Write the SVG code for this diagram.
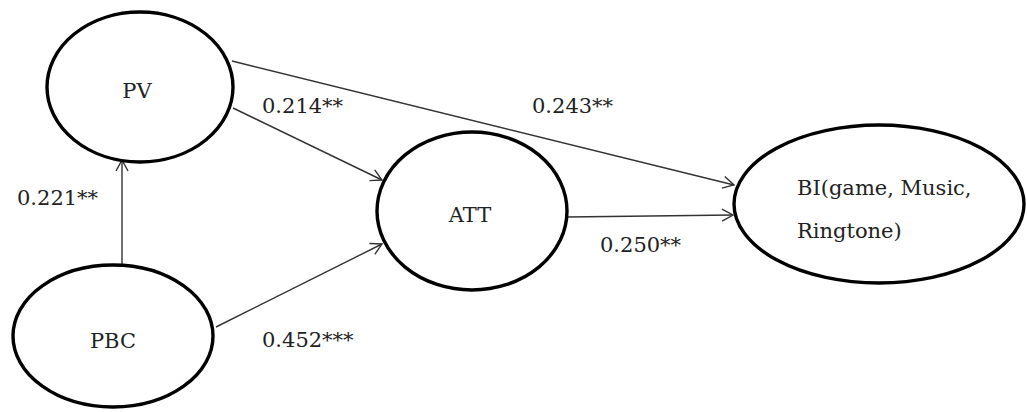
<svg xmlns="http://www.w3.org/2000/svg" width="1027" height="412" viewBox="0 0 1027 412">
<style>
.node{fill:#fff;stroke:#000;stroke-width:3.4}
.lbl{font-family:"DejaVu Serif","Liberation Serif",serif;font-size:21px;fill:#222}
.edge{stroke:#333;stroke-width:1.4;fill:none;marker-end:url(#arr)}
</style>
<defs>
<marker id="arr" markerWidth="14" markerHeight="14" refX="12" refY="7" orient="auto" markerUnits="userSpaceOnUse">
<path d="M1,1 L12,7 L1,13" fill="none" stroke="#333" stroke-width="1.4"/>
</marker>
</defs>
<rect width="1027" height="412" fill="#fff"/>
<g id="connectors">
<line class="edge" x1="122" y1="265" x2="122" y2="160"/>
<line class="edge" x1="233" y1="108" x2="382" y2="180"/>
<line class="edge" x1="232" y1="61" x2="734" y2="185"/>
<line class="edge" x1="216" y1="327" x2="382" y2="244"/>
<line class="edge" x1="567" y1="217" x2="733" y2="215"/>
</g>
<g id="PV">
<ellipse class="node" cx="140" cy="87" rx="93" ry="75"/>
<text class="lbl" x="137" y="98" text-anchor="middle">PV</text>
</g>
<g id="PBC">
<ellipse class="node" cx="113" cy="336" rx="100" ry="71"/>
<text class="lbl" x="113" y="348" text-anchor="middle">PBC</text>
</g>
<g id="ATT">
<ellipse class="node" cx="472" cy="211" rx="95" ry="79"/>
<text class="lbl" x="470" y="222" text-anchor="middle">ATT</text>
</g>
<g id="BI">
<ellipse class="node" cx="879" cy="204" rx="145" ry="79"/>
<text class="lbl" x="797" y="195">BI(game, Music,</text>
<text class="lbl" x="797" y="238">Ringtone)</text>
</g>
<g id="labels">
<text class="lbl" x="17" y="205">0.221**</text>
<text class="lbl" x="262" y="113">0.214**</text>
<text class="lbl" x="532" y="113">0.243**</text>
<text class="lbl" x="600" y="252">0.250**</text>
<text class="lbl" x="262" y="347">0.452***</text>
</g>
</svg>
